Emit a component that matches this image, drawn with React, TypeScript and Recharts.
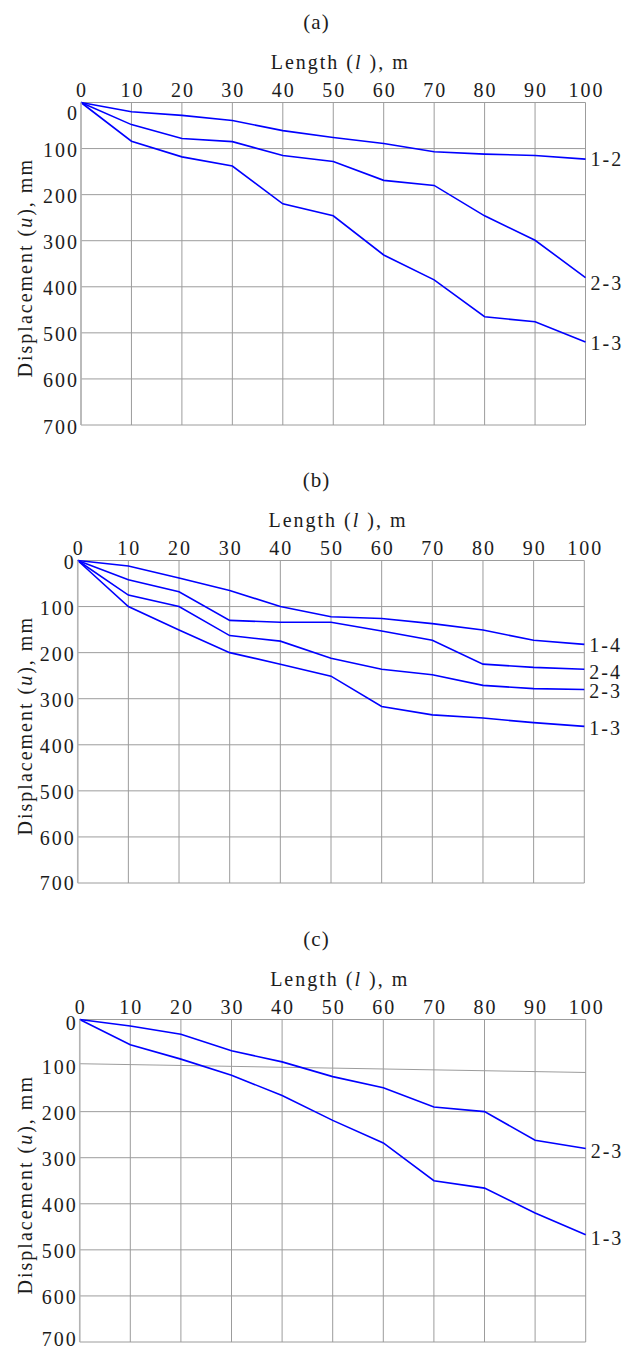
import React from "react";
import {
  LineChart,
  Line,
  XAxis,
  YAxis,
  CartesianGrid,
  ReferenceLine,
  LabelList,
} from "recharts";

// length along the section, m
const LENGTH = [0, 10, 20, 30, 40, 50, 60, 70, 80, 90, 100];
const X_TICKS = [0, 10, 20, 30, 40, 50, 60, 70, 80, 90, 100];
const Y_TICKS = [0, 100, 200, 300, 400, 500, 600, 700];

// panel (a)
const A_12 = [0, 20, 28, 39, 61, 76, 89, 107, 112, 115, 123];
const A_23 = [0, 48, 78, 85, 115, 128, 169, 180, 246, 299, 380];
const A_13 = [0, 84, 118, 138, 220, 246, 331, 385, 465, 476, 520];

// panel (b)
const B_14 = [0, 12, 38, 65, 100, 122, 126, 137, 151, 173, 182];
const B_24 = [0, 42, 68, 130, 134, 134, 153, 173, 225, 232, 236];
const B_23 = [0, 75, 100, 163, 175, 212, 236, 248, 271, 278, 280];
const B_13 = [0, 100, 151, 200, 225, 251, 317, 335, 342, 352, 360];

// panel (c)
const C_23 = [0, 14, 32, 68, 92, 124, 148, 190, 200, 262, 280];
const C_13 = [0, 55, 86, 121, 165, 219, 268, 350, 366, 420, 467];

// the 100 mm grid line in (c) is drawn slightly askew in the source
const C_SKEW = [
  { x: 0, y: 96 },
  { x: 100, y: 115 },
];

const FONT = "'Liberation Serif', 'Times New Roman', serif";
const BLUE = "#0000ff";
const GRID = "#9c9c9c";
const INK = "#1c1c1c";

const W = 633;
const H = 458;
const PLOT_TOP = 102.5;
const PLOT_H = 322.5;
const Y_AXIS_W = 50;
const X_AXIS_H = 30;

type Series = { name: string; values: number[]; dy: number };
type Panel = {
  caption: string;
  top: number;
  left: number;
  right: number;
  zeroDy: number;
  lastDy: number;
  series: Series[];
  skew?: boolean;
};

const PANELS: Panel[] = [
  {
    caption: "(a)",
    top: 0,
    left: 81,
    right: 585.5,
    zeroDy: 10,
    lastDy: 2,
    series: [
      { name: "1-2", values: A_12, dy: 0 },
      { name: "2-3", values: A_23, dy: 5 },
      { name: "1-3", values: A_13, dy: 1 },
    ],
  },
  {
    caption: "(b)",
    top: 458.2,
    left: 77.7,
    right: 584.3,
    zeroDy: 1,
    lastDy: 0,
    series: [
      { name: "1-4", values: B_14, dy: 1 },
      { name: "2-4", values: B_24, dy: 3 },
      { name: "2-3", values: B_23, dy: 1 },
      { name: "1-3", values: B_13, dy: 2 },
    ],
  },
  {
    caption: "(c)",
    top: 916.5,
    left: 79.7,
    right: 585.7,
    zeroDy: 3,
    lastDy: -3,
    skew: true,
    series: [
      { name: "2-3", values: C_23, dy: 2 },
      { name: "1-3", values: C_13, dy: 3 },
    ],
  },
];

const textStyle = {
  fontFamily: FONT,
  fontSize: 20,
  letterSpacing: 2,
  fill: INK,
};

const XTick = (p: any) => (
  <text x={p.x + 1} y={p.y - 6} textAnchor="middle" style={textStyle}>
    {p.payload.value}
  </text>
);

const makeYTick = (zeroDy: number, lastDy: number) => (p: any) => {
  const v = p.payload.value;
  const off = v === 0 ? zeroDy : v === 700 ? lastDy : 1;
  return (
    <text x={p.x - 2} y={p.y + off} dy="0.35em" textAnchor="end" style={textStyle}>
      {v}
    </text>
  );
};

const YTitle = (p: any) => {
  const vb = p.viewBox || { y: PLOT_TOP, height: PLOT_H };
  const cy = vb.y + vb.height / 2 + 4;
  return (
    <text
      x={25}
      y={cy}
      dy="0.35em"
      textAnchor="middle"
      transform={`rotate(-90 25 ${cy})`}
      style={textStyle}
    >
      Displacement (<tspan fontStyle="italic">u</tspan>), mm
    </text>
  );
};

const endLabel = (name: string, dy: number) => (p: any) => {
  if (p.index !== LENGTH.length - 1) return null;
  return (
    <text x={p.x + 5} y={p.y + dy} dy="0.35em" textAnchor="start" style={textStyle}>
      {name}
    </text>
  );
};

function PanelChart({ panel }: { panel: Panel }) {
  const data = LENGTH.map((l, i) => {
    const row: Record<string, number> = { l };
    panel.series.forEach((s, k) => {
      row["s" + k] = s.values[i];
    });
    return row;
  });

  const margin = {
    top: PLOT_TOP - X_AXIS_H,
    left: panel.left - Y_AXIS_W,
    right: W - panel.right,
    bottom: H - PLOT_TOP - PLOT_H,
  };

  return (
    <div style={{ position: "absolute", left: 0, top: panel.top, width: W, height: H }}>
      <div
        style={{
          position: "absolute",
          left: 0,
          width: W,
          top: 8,
          textAlign: "center",
          fontFamily: FONT,
          fontSize: 21,
          letterSpacing: 1,
          color: INK,
          lineHeight: "28px",
        }}
      >
        {panel.caption}
      </div>
      <div
        style={{
          position: "absolute",
          left: panel.left,
          width: panel.right - panel.left + 14,
          top: 48,
          textAlign: "center",
          fontFamily: FONT,
          fontSize: 20,
          letterSpacing: 2,
          color: INK,
          lineHeight: "28px",
        }}
      >
        Length (<i>l</i> ), m
      </div>
      <LineChart width={W} height={H} data={data} margin={margin}>
        <CartesianGrid
          stroke={GRID}
          strokeWidth={1}
          horizontalValues={panel.skew ? Y_TICKS.filter((v) => v !== 100) : Y_TICKS}
          verticalValues={X_TICKS}
        />
        {panel.skew && (
          <ReferenceLine
            segment={C_SKEW}
            stroke={GRID}
            strokeWidth={1}
            ifOverflow="visible"
          />
        )}
        <XAxis
          dataKey="l"
          type="number"
          orientation="top"
          domain={[0, 100]}
          ticks={X_TICKS}
          height={X_AXIS_H}
          axisLine={false}
          tickLine={false}
          tickSize={0}
          tickMargin={0}
          tick={XTick}
          interval={0}
        />
        <YAxis
          type="number"
          reversed
          domain={[0, 700]}
          ticks={Y_TICKS}
          width={Y_AXIS_W}
          axisLine={{ stroke: "#b4b4b4", strokeWidth: 1.5 }}
          tickLine={false}
          tickSize={0}
          tickMargin={0}
          tick={makeYTick(panel.zeroDy, panel.lastDy)}
          interval={0}
          label={<YTitle />}
        />
        {panel.series.map((s, k) => (
          <Line
            key={s.name + k}
            dataKey={"s" + k}
            stroke={BLUE}
            strokeWidth={1.6}
            dot={false}
            isAnimationActive={false}
          >
            <LabelList dataKey={"s" + k} content={endLabel(s.name, s.dy)} />
          </Line>
        ))}
      </LineChart>
    </div>
  );
}

export default function App() {
  return (
    <div
      style={{
        position: "absolute",
        left: 0,
        top: 0,
        width: W,
        height: 1349,
        background: "#fff",
        overflow: "hidden",
      }}
    >
      {PANELS.map((p) => (
        <PanelChart key={p.caption} panel={p} />
      ))}
    </div>
  );
}
